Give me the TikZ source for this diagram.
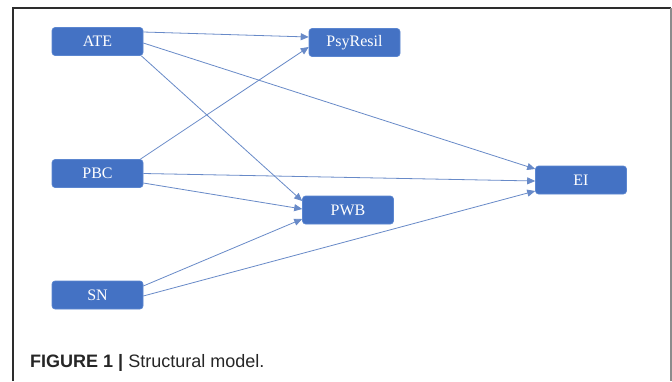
\documentclass[tikz,border=0pt]{standalone}
\usepackage{fontspec}
\setmainfont{Liberation Serif}
\newfontfamily\capfont{Liberation Sans}
\usetikzlibrary{arrows.meta}
\definecolor{boxblue}{RGB}{68,114,196}
\definecolor{boxedge}{RGB}{91,134,208}
\definecolor{linkblue}{RGB}{104,138,200}
\definecolor{framedark}{RGB}{45,45,45}
\definecolor{framegray}{RGB}{140,140,140}
\tikzset{
  construct/.style={fill=boxblue, draw=boxedge, line width=0.6pt, rounded corners=3pt,
    minimum width=91pt, minimum height=28pt, inner sep=0pt, text=white,
    font=\fontsize{16}{18}\selectfont},
  path link/.style={draw=linkblue, line width=0.8pt,
    -{Triangle[length=8pt,width=7pt]}},
}
\begin{document}
\begin{tikzpicture}[x=1pt,y=-1pt]
\useasboundingbox (0,0) rectangle (672,381);
\fill[white] (0,0) rectangle (672,381);
% open frame round the figure
\draw[framedark, line width=1.4pt] (13,381) -- (13,8) -- (671,8);
\draw[framegray, line width=1.4pt] (671,8) -- (671,381);

% constructs
\node[construct] (ATE) at (97.5,41.5) {ATE};
\node[construct] (PsyResil) at (354.5,42.5) {PsyResil};
\node[construct] (PBC) at (97.5,173.5) {PBC};
\node[construct] (PWB) at (348,210) {PWB};
\node[construct] (SN) at (97.5,295) {SN};
\node[construct] (EI) at (581,180) {EI};

% structural paths
\draw[path link] ([yshift=9.5pt]ATE.east) -- ([yshift=5.5pt]PsyResil.west);
\draw[path link] ([yshift=-1.5pt]ATE.east) -- ([yshift=11pt]EI.west);
\draw[path link] ([xshift=-2pt]ATE.south east) -- ([yshift=9pt]PWB.west);
\draw[path link] ([xshift=-3pt]PBC.north east) -- ([yshift=-4.5pt]PsyResil.west);
\draw[path link] (PBC.east) -- ([yshift=-1pt]EI.west);
\draw[path link] ([yshift=-9.5pt]PBC.east) -- ([yshift=1pt]PWB.west);
\draw[path link] ([yshift=9pt]SN.east) -- ([yshift=-9pt]PWB.west);
\draw[path link] ([yshift=-1pt]SN.east) -- ([yshift=-11pt]EI.west);

% caption
\node[anchor=base west, inner sep=0pt, text=black!85,
  font=\capfont\fontsize{18}{20}\selectfont] (cap) at (30,367)
  {\textbf{FIGURE 1 |} Structural model.};
\end{tikzpicture}
\end{document}
